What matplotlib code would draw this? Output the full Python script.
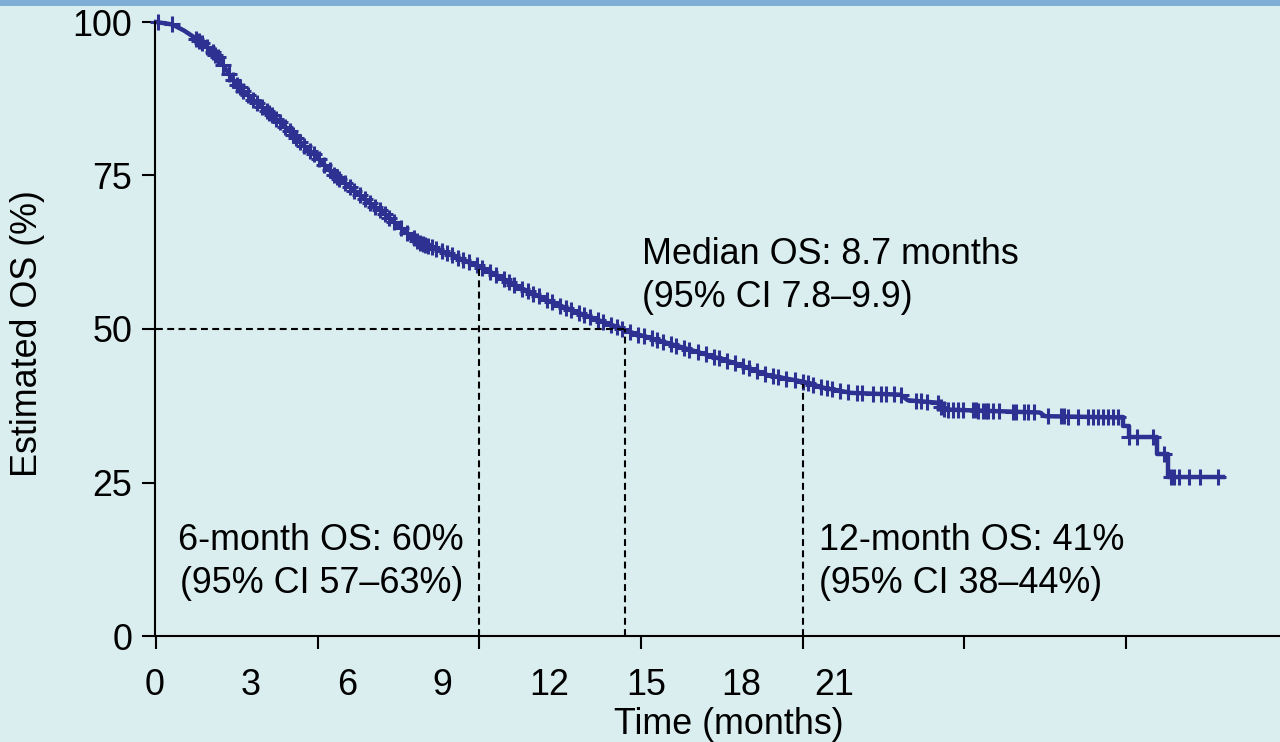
import numpy as np
import matplotlib.pyplot as plt
from matplotlib.patches import Rectangle

plt.rcParams['font.family'] = ['Liberation Sans', 'DejaVu Sans']

# Kaplan-Meier estimate of overall survival (months, %)
km_time = [0, 0.3, 0.52, 0.83, 1.15, 1.45, 1.76, 2.08, 2.37, 2.69, 3.0, 3.3,
           3.62, 3.93, 4.23, 4.55, 4.86, 5.16, 5.47, 5.79, 6.03, 6.72, 7.33,
           7.94, 8.57, 8.87, 9.5, 10.11, 10.72, 11.35, 12.02, 12.4, 12.9,
           13.82, 13.95, 14.5, 14.6, 16.4, 16.5, 17.93]
km_surv = [100, 99.6, 98.6, 96.8, 94.3, 90.2, 87.6, 85.3, 83.2, 80.3, 77.9,
           75.1, 73.0, 70.7, 68.9, 66.4, 64.2, 63.2, 62.1, 60.9, 60.1, 56.9,
           54.4, 52.3, 50.3, 49.3, 47.7, 46.1, 44.5, 42.5, 41.4, 40.4, 39.6,
           39.3, 38.4, 38.0, 36.9, 36.4, 35.8, 35.6]

# last few deaths, drawn as explicit steps
tail_time = [17.93, 17.94, 18.05, 18.58, 18.78, 19.81]
tail_surv = [35.6, 34.2, 32.4, 29.6, 25.9, 25.9]

# censored patients
censor_time = [0.03, 0.3, 0.75, 0.8, 0.85, 0.95, 1.05, 1.1, 1.15, 1.25, 1.35,
               1.42, 1.5, 1.55, 1.62, 1.7, 1.8, 1.88, 1.97, 2.05, 2.1, 2.15,
               2.23, 2.3, 2.4, 2.48, 2.55, 2.6, 2.68, 2.75, 2.85, 2.93, 3.02,
               3.12, 3.22, 3.3, 3.35, 3.4, 3.5, 3.6, 3.68, 3.78, 3.87, 3.97,
               4.07, 4.15, 4.25, 4.33, 4.42, 4.55, 4.65, 4.78, 4.85, 4.9,
               4.95, 5.0, 5.05, 5.12, 5.2, 5.3, 5.4, 5.5, 5.6, 5.7, 5.8,
               5.95, 6.05, 6.2, 6.3, 6.45, 6.55, 6.65, 6.8, 6.9, 7.0, 7.1,
               7.25, 7.35, 7.5, 7.6, 7.7, 7.85, 7.95, 8.05, 8.2, 8.3, 8.45,
               8.55, 8.65, 8.8, 8.95, 9.05, 9.2, 9.3, 9.4, 9.55, 9.65, 9.8,
               9.9, 10.05, 10.2, 10.35, 10.45, 10.6, 10.75, 10.9, 11.0, 11.15,
               11.3, 11.45, 11.55, 11.7, 11.85, 12.0, 12.1, 12.2, 12.35, 12.45,
               12.55, 12.7, 12.85, 13.0, 13.1, 13.3, 13.45, 13.55, 13.7, 13.82,
               14.1, 14.19, 14.3, 14.51, 14.56, 14.62, 14.69, 14.79, 14.88,
               14.97, 15.16, 15.21, 15.25, 15.34, 15.4, 15.44, 15.53, 15.64,
               15.9, 15.96, 16.1, 16.18, 16.29, 16.55, 16.79, 16.85, 16.92,
               17.11, 17.29, 17.38, 17.48, 17.57, 17.66, 17.76, 17.85,
               18.06, 18.2, 18.5, 18.7, 18.84, 18.89, 18.98, 19.17, 19.37, 19.7]

# landmark estimates
os_6m = 60
os_12m = 41
median_os = 8.7

xticks = [0, 3, 6, 9, 12, 15, 18]
xlabel_pos = [-0.02, 1.76, 3.54, 5.32, 7.29, 9.09, 10.86, 12.59]
xlabel_text = ['0', '3', '6', '9', '12', '15', '18', '21']
yticks = [0, 25, 50, 75, 100]

bg = '#daedef'
navy = '#2e3192'


def surv_at(t):
    if t <= km_time[-1]:
        return np.interp(t, km_time, km_surv)
    i = np.searchsorted(tail_time, t, side='right') - 1
    return tail_surv[i]


fig = plt.figure(figsize=(12.8, 7.42), dpi=100, facecolor=bg)
fig.add_artist(Rectangle((0, 1 - 6 / 742), 1, 6 / 742, transform=fig.transFigure,
                         color='#7eaed5', lw=0))
ax = fig.add_axes([155 / 1280, 106 / 742, 1125 / 1280, 614 / 742])
ax.set_facecolor(bg)

ax.plot(km_time, km_surv, color=navy, lw=3.2, clip_on=False)
ax.step(tail_time, tail_surv, where='post', color=navy, lw=3.2, clip_on=False)
ax.plot(censor_time, [surv_at(t) for t in censor_time], ls='none', marker='+',
        ms=11.5, mew=2.2, color=navy, clip_on=False)

# reference lines for median and landmark survival
dash = dict(color='black', lw=1.5, dashes=(3.3, 2.1))
ax.plot([0, median_os], [50, 50], **dash)
ax.plot([median_os, median_os], [0, 50], **dash)
ax.plot([6, 6], [0, os_6m], **dash)
ax.plot([12, 12], [0, os_12m], **dash)

fs = 25.8
ax.text(9.02, 60.6, f'Median OS: {median_os} months', fontsize=fs)
ax.text(9.02, 53.6, '(95% CI 7.8\u20139.9)', fontsize=fs)
ax.text(0.41, 14.0, f'6-month OS: {os_6m}%', fontsize=fs)
ax.text(0.45, 7.0, '(95% CI 57\u201363%)', fontsize=fs)
ax.text(12.3, 14.0, f'12-month OS: {os_12m}%', fontsize=fs)
ax.text(12.3, 7.0, '(95% CI 38\u201344%)', fontsize=fs)

ax.set_xlim(0, 20.86)
ax.set_ylim(0, 100)
ax.spines[['top', 'right']].set_visible(False)
for s in ['left', 'bottom']:
    ax.spines[s].set_linewidth(1.5)

ax.set_xticks(xticks)
ax.set_xticks(xlabel_pos, labels=xlabel_text, minor=True)
ax.tick_params(axis='x', which='major', length=9.5, width=1.5, labelbottom=False)
ax.tick_params(axis='x', which='minor', length=0, pad=23, labelsize=fs)
ax.set_yticks(yticks)
ax.tick_params(axis='y', length=9.5, width=1.5, pad=7, labelsize=fs)

fig.text(28 / 1280, 1 - 334 / 742, 'Estimated OS (%)', rotation=90, fontsize=fs,
         ha='center', va='center')
fig.text(729 / 1280, 1 - 724 / 742, 'Time (months)', fontsize=fs,
         ha='center', va='center')

fig.savefig('out.png', dpi=100, facecolor=bg)
